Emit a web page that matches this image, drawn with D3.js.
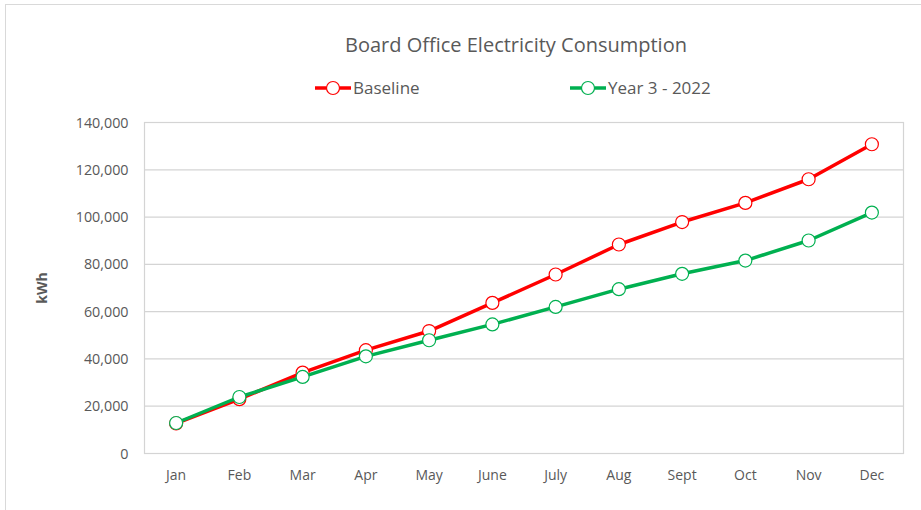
<!DOCTYPE html>
<html>
<head>
<meta charset="utf-8">
<script src="https://cdn.jsdelivr.net/npm/d3@7"></script>
<style>
  body { margin: 0; background: #fff; }
  svg text { font-family: "Open Sans", "Noto Sans", sans-serif; fill: #595959; }
</style>
</head>
<body>
<svg id="chart" width="921" height="510"></svg>
<script>
// chart data
const months = ['Jan', 'Feb', 'Mar', 'Apr', 'May', 'June', 'July', 'Aug', 'Sept', 'Oct', 'Nov', 'Dec'];
const baseline = [12700, 23000, 34200, 43700, 51800, 63700, 75700, 88400, 97900, 106000, 116000, 130800];
const year3 = [12900, 23900, 32400, 41100, 47900, 54600, 62000, 69500, 76000, 81600, 90100, 101900];
const yTicks = [0, 20000, 40000, 60000, 80000, 100000, 120000, 140000];

const series = [
    {name: 'Baseline', values: baseline, color: '#ff0000'},
    {name: 'Year 3 - 2022', values: year3, color: '#00b050'}
];

let svg = d3.select('#chart');

// outer chart border
svg.append('rect')
    .attr('x', 5.5).attr('y', 4.5)
    .attr('width', 930).attr('height', 520)
    .attr('fill', 'none')
    .attr('stroke', '#d9d9d9');

let plotLeft = 144.5, plotRight = 903.5, plotTop = 122.5, plotBottom = 453.5;

let x = d3.scaleBand()
    .domain(months)
    .range([plotLeft, plotRight]);

let y = d3.scaleLinear()
    .domain([0, 140000])
    .range([plotBottom, plotTop]);

// gridlines
svg.append('g')
    .selectAll('line')
    .data(yTicks)
    .enter()
    .append('line')
    .attr('x1', plotLeft).attr('x2', plotRight)
    .attr('y1', d => y(d)).attr('y2', d => y(d))
    .attr('stroke', '#d4d4d4')
    .attr('stroke-width', 1.2);

// plot area border
svg.append('rect')
    .attr('x', plotLeft).attr('y', plotTop)
    .attr('width', plotRight - plotLeft).attr('height', plotBottom - plotTop)
    .attr('fill', 'none')
    .attr('stroke', '#d4d4d4')
    .attr('stroke-width', 1.2);

// y axis labels
let yAxis = svg.append('g')
    .attr('transform', 'translate(' + (plotLeft - 16) + ',0)')
    .call(d3.axisLeft(y).tickValues(yTicks).tickSize(0).tickFormat(d3.format(',')));
yAxis.select('.domain').remove();
yAxis.selectAll('text')
    .attr('x', 0)
    .style('font-size', '14.3px')
    .style('font-family', '"Open Sans", sans-serif')
    .style('fill', '#595959');

// x axis labels
let xAxis = svg.append('g')
    .attr('transform', 'translate(0,' + (plotBottom + 17) + ')')
    .call(d3.axisBottom(x).tickSize(0));
xAxis.select('.domain').remove();
xAxis.selectAll('text')
    .attr('y', 0)
    .attr('dy', '0.71em')
    .style('font-size', '14px')
    .style('font-family', '"Open Sans", sans-serif')
    .style('fill', '#595959');

// y axis title
svg.append('text')
    .attr('transform', 'translate(47,' + ((plotTop + plotBottom) / 2) + ') rotate(-90)')
    .attr('text-anchor', 'middle')
    .style('font-size', '14px')
    .style('font-weight', 'bold')
    .text('kWh');

// chart title
svg.append('text')
    .attr('x', 516).attr('y', 52)
    .attr('text-anchor', 'middle')
    .style('font-size', '20px')
    .text('Board Office Electricity Consumption');

let line = d3.line()
    .x((d, i) => x(months[i]) + x.bandwidth() / 2)
    .y(d => y(d));

series.forEach(function (s) {
    svg.append('path')
        .datum(s.values)
        .attr('d', line)
        .attr('fill', 'none')
        .attr('stroke', s.color)
        .attr('stroke-width', 3.5)
        .attr('stroke-linejoin', 'round');

    svg.append('g')
        .selectAll('circle')
        .data(s.values)
        .enter()
        .append('circle')
        .attr('cx', (d, i) => x(months[i]) + x.bandwidth() / 2)
        .attr('cy', d => y(d))
        .attr('r', 6.5)
        .attr('fill', 'white')
        .attr('stroke', s.color)
        .attr('stroke-width', 1.2);
});

// legend
let legendX = [315, 570];
series.forEach(function (s, i) {
    let g = svg.append('g')
        .attr('transform', 'translate(' + legendX[i] + ',88)');
    g.append('line')
        .attr('x1', 0).attr('x2', 36)
        .attr('stroke', s.color)
        .attr('stroke-width', 3.5);
    g.append('circle')
        .attr('cx', 18).attr('r', 6.5)
        .attr('fill', 'white')
        .attr('stroke', s.color)
        .attr('stroke-width', 1.2);
    g.append('text')
        .attr('x', 38).attr('dy', '0.35em')
        .style('font-size', '17px')
        .text(s.name);
});
</script>
</body>
</html>
